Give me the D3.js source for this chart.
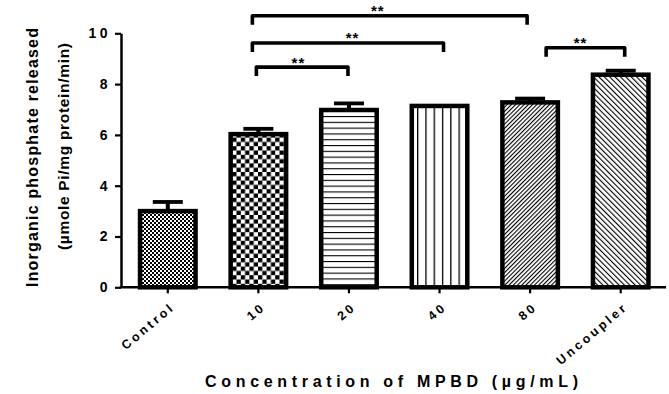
<!DOCTYPE html>
<html>
<head>
<meta charset="utf-8">
<script src="https://cdn.jsdelivr.net/npm/d3@7"></script>
<style>
  html, body { margin: 0; padding: 0; background: #fff; }
  svg { display: block; }
  text { font-family: "Liberation Sans", Arial, sans-serif; font-weight: bold; fill: #000; }
</style>
</head>
<body>
<div id="chart"></div>
<script>
// ---- data ----
const categories = ["Control", "10", "20", "40", "80", "Uncoupler"];
const means      = [3.0, 6.03, 6.98, 7.14, 7.28, 8.37];
const errors     = [0.36, 0.21, 0.26, 0, 0.15, 0.16];
const patterns   = ["fineChecker", "checker", "hlines", "vlines", "diagUp", "diagDown"];
const yTicks     = [0, 2, 4, 6, 8, 10];
const yTitle1    = "Inorganic phosphate released";
const yTitle2    = "(µmole Pi/mg protein/min)";
const xTitle     = "Concentration of MPBD (µg/mL)";
// significance brackets: from category, to category, height (y units), label
const bracketFrom  = ["10", "10", "10", "80"];
const bracketTo    = ["80", "40", "20", "Uncoupler"];
const bracketLevel = [10.69, 9.62, 8.67, 9.43];
const bracketLabel = ["**", "**", "**", "**"];

// ---- layout ----
const W = 669, H = 394;
const svg = d3.select("#chart").append("svg").attr("width", W).attr("height", H);

const x = d3.scaleBand().domain(categories).range([122.5, 666]);
const y = d3.scaleLinear().domain([0, 10]).range([287.3, 33.3]);
const barW = 55.5;

// ---- patterns ----
const defs = svg.append("defs");
function pat(id, w, h, transform) {
  const p = defs.append("pattern").attr("id", id)
    .attr("patternUnits", "userSpaceOnUse").attr("width", w).attr("height", h);
  if (transform) p.attr("patternTransform", transform);
  p.append("rect").attr("width", w).attr("height", h).attr("fill", "#fff");
  return p;
}
let p;
p = pat("fineChecker", 4, 4);
p.append("rect").attr("x", 0).attr("y", 0).attr("width", 2).attr("height", 2).attr("fill", "#000");
p.append("rect").attr("x", 2).attr("y", 2).attr("width", 2).attr("height", 2).attr("fill", "#000");
p = pat("checker", 8.6, 8.6);
p.append("rect").attr("x", 0).attr("y", 0).attr("width", 4.3).attr("height", 4.3).attr("fill", "#000");
p.append("rect").attr("x", 4.3).attr("y", 4.3).attr("width", 4.3).attr("height", 4.3).attr("fill", "#000");
p = pat("hlines", 10, 5.8);
p.append("rect").attr("x", 0).attr("y", 0).attr("width", 10).attr("height", 1.1).attr("fill", "#000");
p = pat("vlines", 8.3, 10, "translate(2,0)");
p.append("rect").attr("x", 0).attr("y", 0).attr("width", 1.3).attr("height", 10).attr("fill", "#000");
p = pat("diagUp", 3.0, 3.0, "rotate(45)");
p.append("rect").attr("x", 0).attr("y", 0).attr("width", 1.1).attr("height", 3.0).attr("fill", "#000");
p = pat("diagDown", 3.8, 3.8, "rotate(-45)");
p.append("rect").attr("x", 0).attr("y", 0).attr("width", 1.1).attr("height", 3.8).attr("fill", "#000");

const data = categories.map((c, i) => ({ c, v: means[i], e: errors[i], p: patterns[i] }));

// ---- error bars (upper only) ----
const eb = svg.append("g").attr("stroke", "#000");
data.filter(d => d.e > 0).forEach(d => {
  const cx = x(d.c) + x.bandwidth() / 2;
  eb.append("line").attr("x1", cx).attr("x2", cx)
    .attr("y1", y(d.v)).attr("y2", y(d.v + d.e)).attr("stroke-width", 4);
  eb.append("line").attr("x1", cx - 15).attr("x2", cx + 15)
    .attr("y1", y(d.v + d.e)).attr("y2", y(d.v + d.e)).attr("stroke-width", 3.8);
});

// ---- bars ----
svg.append("g").selectAll("rect").data(data).join("rect")
  .attr("x", d => x(d.c) + x.bandwidth() / 2 - barW / 2)
  .attr("width", barW)
  .attr("y", d => y(d.v))
  .attr("height", d => y(0) - y(d.v))
  .attr("fill", d => `url(#${d.p})`)
  .attr("stroke", "#000")
  .attr("stroke-width", 4.5);

// ---- axes ----
const yAxis = svg.append("g").attr("transform", "translate(121,0)")
  .call(d3.axisLeft(y).tickValues(yTicks).tickSize(6).tickSizeOuter(0).tickFormat(d3.format("d")));
yAxis.select(".domain").attr("stroke-width", 2.5);
yAxis.selectAll(".tick line").attr("stroke-width", 2.2);
yAxis.selectAll(".tick text").attr("x", -10).style("font-size", "14px").style("letter-spacing", "3.5px")
  .style("font-family", "'Liberation Sans', Arial, sans-serif").style("font-weight", "bold");

const xAxis = svg.append("g").attr("transform", `translate(0,${y(0)})`)
  .call(d3.axisBottom(x).tickSize(6).tickSizeOuter(0).tickFormat(""));
xAxis.select(".domain").attr("d", `M119.8,0H666`).attr("stroke-width", 2.5);
xAxis.selectAll(".tick line").attr("stroke-width", 2.2);

// x tick labels rotated
svg.append("g").selectAll("text").data(categories).join("text")
  .attr("transform", d => `translate(${x(d) + x.bandwidth() / 2 + 8},${y(0) + 21}) rotate(-40)`)
  .attr("text-anchor", "end")
  .style("font-size", "12.5px")
  .style("letter-spacing", "3px")
  .text(d => d);

// ---- titles ----
svg.append("text")
  .attr("transform", "translate(38.3,157.5) rotate(-90)")
  .attr("text-anchor", "middle")
  .attr("textLength", 259).attr("lengthAdjust", "spacing")
  .style("font-size", "16px")
  .text(yTitle1);
svg.append("text")
  .attr("transform", "translate(68.5,146.5) rotate(-90)")
  .attr("text-anchor", "middle")
  .attr("textLength", 207).attr("lengthAdjust", "spacing")
  .style("font-size", "15.5px")
  .text(yTitle2);
svg.append("text")
  .attr("x", 391.5).attr("y", 386.7)
  .attr("text-anchor", "middle")
  .attr("textLength", 373).attr("lengthAdjust", "spacing")
  .style("font-size", "16px")
  .text(xTitle);

// ---- significance brackets ----
const legOff1 = [-6, -6, -2, 16];
const legOff2 = [-3, 4, -1, 4];
const starOff = [-12, 4.6, -3.7, -4.8];
const br = svg.append("g");
bracketFrom.forEach((f, i) => {
  const x1 = x(f) + x.bandwidth() / 2 + legOff1[i];
  const x2 = x(bracketTo[i]) + x.bandwidth() / 2 + legOff2[i];
  const yy = y(bracketLevel[i]);
  br.append("path")
    .attr("d", `M${x1},${yy + 9}V${yy}H${x2}V${yy + 9}`)
    .attr("fill", "none").attr("stroke", "#000")
    .attr("stroke-width", 3.6).attr("stroke-linejoin", "round");
  br.append("text")
    .attr("x", (x1 + x2) / 2 + starOff[i]).attr("y", yy + 0.5)
    .attr("text-anchor", "middle")
    .style("font-size", "15px").style("letter-spacing", "1px")
    .text(bracketLabel[i]);
});
</script>
</body>
</html>
